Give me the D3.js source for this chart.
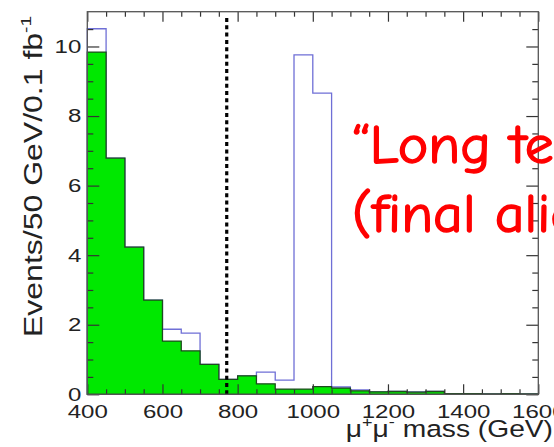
<!DOCTYPE html>
<html>
<head>
<meta charset="utf-8">
<script src="https://cdn.jsdelivr.net/npm/d3@7"></script>
<style>
  html, body { margin: 0; padding: 0; background: #fff; overflow: hidden; }
  svg { display: block; }
</style>
</head>
<body>
<svg id="chart" width="554" height="447"></svg>
<script>
// Dimuon invariant-mass spectrum, 50 GeV bins, 0.1 fb^-1
const binLow = [400, 450, 500, 550, 600, 650, 700, 750, 800, 850, 900, 950,
                1000, 1050, 1100, 1150, 1200, 1250, 1300, 1350, 1400, 1450, 1500, 1550];
const binWidth = 50;
// Drell-Yan background (filled histogram)
const background = [9.84, 6.79, 4.23, 2.71, 1.53, 1.25, 0.86, 0.43, 0.53, 0.30, 0.15, 0.15,
                     0.22, 0.18, 0.10, 0.07, 0.08, 0.06, 0.08, 0.02, 0.02, 0.01, 0.02, 0.01];
// Signal + background (open histogram)
const total = [10.51, 6.79, 4.23, 2.71, 1.87, 1.76, 0.86, 0.43, 0.53, 0.64, 0.41, 9.76,
               8.66, 0.21, 0.13, 0.07, 0.08, 0.07, 0.08, 0.02, 0.02, 0.01, 0.02, 0.01];
const xTickValues = [400, 600, 800, 1000, 1200, 1400, 1600];
const yTickValues = [0, 2, 4, 6, 8, 10];
const xMinorValues = [450, 500, 550, 650, 700, 750, 850, 900, 950, 1050, 1100, 1150,
                      1250, 1300, 1350, 1450, 1500, 1550];
const yMinorValues = [0.5, 1, 1.5, 2.5, 3, 3.5, 4.5, 5, 5.5, 6.5, 7, 7.5, 8.5, 9, 9.5, 10.5];
const massCut = 771;
const massCutTop = 10.85;
const xDomain = [400, 1600];
const yDomain = [0, 11];
const noteLines = ["\u201CLong term\u201D", "(final alignment)"];

const svg = d3.select("#chart");
const frame = { left: 87.3, right: 538.3, top: 11.7, bottom: 394.3 };
const x = d3.scaleLinear().domain(xDomain).range([frame.left, frame.right]);
const y = d3.scaleLinear().domain(yDomain).range([frame.bottom, frame.top]);

const FONT = "'Liberation Sans', Arial, Helvetica, sans-serif";
const SX = 1.3; // wide axis lettering

// step outline of a histogram, closed to zero at both ends
function stepPoints(vals) {
  const pts = [[binLow[0], 0]];
  vals.forEach((v, i) => {
    pts.push([binLow[i], v]);
    pts.push([binLow[i] + binWidth, v]);
  });
  pts.push([binLow[binLow.length - 1] + binWidth, 0]);
  return pts;
}
const line = d3.line().x(d => x(d[0])).y(d => y(d[1]));

const plot = svg.append("g");

// signal + background outline
plot.append("path")
  .attr("d", line(stepPoints(total)))
  .attr("fill", "none")
  .attr("stroke", "#6f6fd6")
  .attr("stroke-width", 1.3);

// background fill and outline
plot.append("path")
  .attr("d", line(stepPoints(background)) + "Z")
  .attr("fill", "#00e800")
  .attr("stroke", "#1f4a1f")
  .attr("stroke-width", 1.3)
  .attr("stroke-linejoin", "miter");

// mass cut
plot.append("line")
  .attr("x1", x(massCut)).attr("x2", x(massCut))
  .attr("y1", y(0)).attr("y2", y(massCutTop))
  .attr("stroke", "#000")
  .attr("stroke-width", 3.2)
  .attr("stroke-dasharray", "4,3.3");

// axes: ticks point into the frame
function styleAxis(g) {
  g.select(".domain").remove();
  g.selectAll(".tick line").attr("stroke", "#333").attr("stroke-width", 1.2);
}
const axisColor = "#222";

const gBottom = svg.append("g").attr("transform", `translate(0,${frame.bottom})`)
  .call(d3.axisBottom(x).tickValues(xTickValues).tickSize(-10).tickPadding(11)
        .tickFormat(d3.format("d")));
styleAxis(gBottom);
gBottom.selectAll("text")
  .attr("fill", axisColor)
  .style("font-family", FONT).style("font-size", "18.5px")
  .attr("transform", `scale(${SX},1)`);

svg.append("g").attr("transform", `translate(0,${frame.bottom})`)
  .call(d3.axisBottom(x).tickValues(xMinorValues).tickSize(-5).tickFormat(""))
  .call(styleAxis);

svg.append("g").attr("transform", `translate(0,${frame.top})`)
  .call(d3.axisTop(x).tickValues(xTickValues).tickSize(-10).tickFormat(""))
  .call(styleAxis);
svg.append("g").attr("transform", `translate(0,${frame.top})`)
  .call(d3.axisTop(x).tickValues(xMinorValues).tickSize(-5).tickFormat(""))
  .call(styleAxis);

const gLeft = svg.append("g").attr("transform", `translate(${frame.left},0)`)
  .call(d3.axisLeft(y).tickValues(yTickValues).tickSize(-12).tickPadding(6)
        .tickFormat(d3.format("d")));
styleAxis(gLeft);
gLeft.selectAll("text")
  .attr("fill", axisColor)
  .style("font-family", FONT).style("font-size", "18.5px")
  .attr("x", -6 / SX)
  .attr("transform", `scale(${SX},1)`);

svg.append("g").attr("transform", `translate(${frame.left},0)`)
  .call(d3.axisLeft(y).tickValues(yMinorValues).tickSize(-6).tickFormat(""))
  .call(styleAxis);
svg.append("g").attr("transform", `translate(${frame.right},0)`)
  .call(d3.axisRight(y).tickValues(yTickValues).tickSize(-12).tickFormat(""))
  .call(styleAxis);
svg.append("g").attr("transform", `translate(${frame.right},0)`)
  .call(d3.axisRight(y).tickValues(yMinorValues).tickSize(-6).tickFormat(""))
  .call(styleAxis);

// frame
svg.append("rect")
  .attr("x", frame.left).attr("y", frame.top)
  .attr("width", frame.right - frame.left).attr("height", frame.bottom - frame.top)
  .attr("fill", "none").attr("stroke", "#555").attr("stroke-width", 1.3);

// axis titles
const xTitle = svg.append("text")
  .attr("transform", `translate(553,437) scale(1.2,1)`)
  .attr("text-anchor", "end")
  .attr("fill", axisColor)
  .style("font-family", FONT).style("font-size", "23.5px");
xTitle.append("tspan").text("\u03BC");
xTitle.append("tspan").text("+").attr("dy", -10).style("font-size", "15px");
xTitle.append("tspan").text("\u03BC").attr("dy", 10);
xTitle.append("tspan").text("-").attr("dy", -10).style("font-size", "15px");
xTitle.append("tspan").text(" mass (GeV)").attr("dy", 10);

const yTitle = svg.append("text")
  .attr("transform", `translate(42,337) rotate(-90) scale(1.28,1)`)
  .attr("text-anchor", "start")
  .attr("fill", axisColor)
  .style("font-family", FONT).style("font-size", "25px");
yTitle.append("tspan").text("Events/50 GeV/0.1 fb");
yTitle.append("tspan").text("-1").attr("dy", -11).style("font-size", "15px");

// annotation
const note = svg.append("g").attr("fill", "#ff0000")
  .attr("stroke", "#ff0000").attr("stroke-width", 1.4)
  .style("font-family", "'Comic Sans MS', 'Comic Neue', 'Noto Sans', sans-serif")
  .style("font-size", "55px");
noteLines.forEach((t, i) => {
  note.append("text")
    .attr("transform", `translate(352,${163 + i * 69}) scale(1.05,1)`)
    .text(t);
});
</script>
</body>
</html>
